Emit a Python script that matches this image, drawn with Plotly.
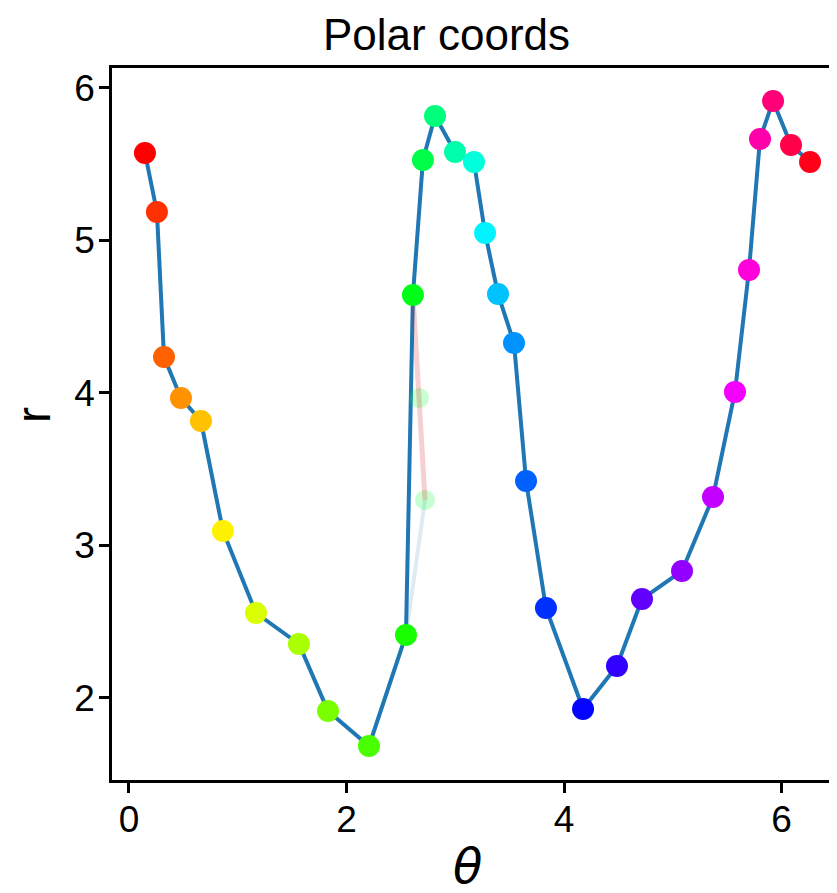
import plotly.graph_objects as go

# ---- data ----
theta = [0.147, 0.257, 0.322, 0.478, 0.662, 0.864, 1.168, 1.563, 1.830, 2.207,
         2.547, 2.611, 2.703, 2.814, 2.998, 3.172, 3.274, 3.393, 3.540, 3.651,
         3.834, 4.175, 4.487, 4.717, 5.085, 5.370, 5.572, 5.701, 5.802, 5.922,
         6.087, 6.262]
r = [5.574, 5.187, 4.236, 3.967, 3.816, 3.095, 2.557, 2.354, 1.915, 1.685,
     2.413, 4.643, 5.528, 5.816, 5.580, 5.515, 5.049, 4.649, 4.328, 3.423,
     2.590, 1.928, 2.210, 2.649, 2.833, 3.318, 4.007, 4.807, 5.666, 5.915,
     5.626, 5.515]
color_index = list(range(len(theta)))

# faded "ghost" path between the 11th and 12th points
ghost_blue_theta = [2.547, 2.722]
ghost_blue_r = [2.413, 3.298]
ghost_pink_theta = [2.722, 2.667, 2.611]
ghost_pink_r = [3.298, 3.967, 4.643]
ghost_pts_theta = [2.667, 2.722]
ghost_pts_r = [3.967, 3.298]

x_ticks = [0, 2, 4, 6]
y_ticks = [2, 3, 4, 5, 6]

# matplotlib 'hsv' colormap segment data -> plotly colorscale
_hsv = {
    'red': [(0., 1.), (0.158730, 1.0), (0.174603, 0.96875), (0.333333, 0.03125),
            (0.349206, 0.0), (0.666667, 0.0), (0.682540, 0.03125), (0.841270, 0.96875),
            (0.857143, 1.0), (1.0, 1.0)],
    'green': [(0., 0.), (0.158730, 0.9375), (0.174603, 1.0), (0.507937, 1.0),
              (0.666667, 0.0625), (0.682540, 0.0), (1.0, 0.)],
    'blue': [(0., 0.), (0.333333, 0.0), (0.349206, 0.0625), (0.507937, 1.0),
             (0.841270, 1.0), (0.857143, 0.9375), (1.0, 0.09375)],
}


def _interp(seg, t):
    for (x0, y0), (x1, y1) in zip(seg[:-1], seg[1:]):
        if x0 <= t <= x1:
            return y0 if x1 == x0 else y0 + (y1 - y0) * (t - x0) / (x1 - x0)
    return seg[-1][1]


_stops = sorted({p[0] for ch in _hsv.values() for p in ch})
hsv_scale = []
for s in _stops:
    rr, gg, bb = (round(255 * _interp(_hsv[c], s)) for c in ('red', 'green', 'blue'))
    hsv_scale.append([s, f"rgb({rr},{gg},{bb})"])

fig = go.Figure()

fig.add_trace(go.Scatter(x=theta, y=r, mode="lines",
                         line=dict(color="#1f77b4", width=4), hoverinfo="skip",
                         showlegend=False))
fig.add_trace(go.Scatter(x=ghost_blue_theta, y=ghost_blue_r, mode="lines",
                         line=dict(color="rgba(31,119,180,0.15)", width=4),
                         showlegend=False))
fig.add_trace(go.Scatter(x=ghost_pts_theta, y=ghost_pts_r, mode="markers",
                         marker=dict(size=20, color="rgba(0,255,40,0.22)", line=dict(width=0)),
                         showlegend=False))
fig.add_trace(go.Scatter(x=ghost_pink_theta, y=ghost_pink_r, mode="lines",
                         line=dict(color="rgba(214,39,40,0.22)", width=5),
                         showlegend=False))
fig.add_trace(go.Scatter(x=theta, y=r, mode="markers",
                         marker=dict(size=22, color=color_index, colorscale=hsv_scale,
                                     cmin=0, cmax=len(theta) - 1, line=dict(width=0)),
                         showlegend=False))

# page has an 8px body margin: figure occupies page x 8..837, y 8..893
W, H = 829, 885
L, R, T, B = 104, 0, 60, 113
PX0, PY_BOTTOM = 112, 780  # plot-area left / bottom in page pixels
PW, PH = 725, 712

fig.update_layout(
    width=W, height=H,
    margin=dict(l=L, r=R, t=T, b=B),
    paper_bgcolor="white", plot_bgcolor="white",
    font=dict(family="Liberation Sans, Arial, sans-serif", color="black"),
)
fig.update_xaxes(range=[-0.156, 6.510], tickvals=x_ticks, ticks="outside", ticklen=10,
                 tickwidth=2.5, tickcolor="black", showline=True, linewidth=2.5,
                 linecolor="black", mirror=True, showgrid=False, zeroline=False,
                 tickfont=dict(size=37), ticklabelstandoff=-5)
fig.update_yaxes(range=[1.462, 6.131], tickvals=y_ticks, ticks="outside", ticklen=10,
                 tickwidth=2.5, tickcolor="black", showline=True, linewidth=2.5,
                 linecolor="black", mirror=False, showgrid=False, zeroline=False,
                 tickfont=dict(size=37), ticklabelstandoff=-3)

fig.add_annotation(text="Polar coords", xref="paper", yref="paper",
                   x=(446 - PX0) / PW, y=(PY_BOTTOM - 34) / PH, showarrow=False,
                   xanchor="center", yanchor="middle", borderpad=0,
                   font=dict(size=44, family="Liberation Sans, Arial, sans-serif", color="black"))
fig.add_annotation(text="r", xref="paper", yref="paper",
                   x=(33 - PX0) / PW, y=(PY_BOTTOM - 415) / PH, showarrow=False,
                   textangle=-90, xanchor="center", yanchor="middle",
                   font=dict(size=48, family="Liberation Sans, Arial, sans-serif", color="black"))
fig.add_annotation(text="<i>θ</i>", xref="paper", yref="paper",
                   x=(467 - PX0) / PW, y=(PY_BOTTOM - 866) / PH, showarrow=False,
                   xanchor="center", yanchor="middle",
                   font=dict(size=48, family="DejaVu Sans, sans-serif", color="black"))

fig.write_html("out.html")
